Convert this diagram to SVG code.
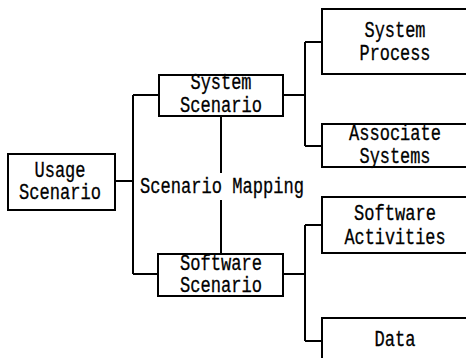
<svg xmlns="http://www.w3.org/2000/svg" width="466" height="358" viewBox="0 0 466 358">
<style>
.box{fill:#fff;stroke:#000;stroke-width:2}
.ln{fill:none;stroke:#000;stroke-width:2}
text{font-family:"Liberation Mono","DejaVu Sans Mono",monospace;font-size:22px;text-anchor:middle;fill:#000;stroke:#000;stroke-width:0.3}
</style>
<rect width="466" height="358" fill="#fff"/>
<g id="connectors">
<path class="ln" d="M115 181H133M133 95V274M133 95H159M133 274H158"/>
<path class="ln" d="M283 95H305M305 42V146M305 42H322M305 146H322"/>
<path class="ln" d="M283 274H305M305 225V341M305 225H322M305 341H322"/>
<path class="ln" d="M221 116V173M221 200V254"/>
<text x="222" y="193" textLength="164" lengthAdjust="spacingAndGlyphs">Scenario Mapping</text>
</g>
<g id="usage">
<rect class="box" x="8" y="154" width="107" height="56"/>
<text x="60" y="177" textLength="51" lengthAdjust="spacingAndGlyphs">Usage</text>
<text x="60" y="199" textLength="82" lengthAdjust="spacingAndGlyphs">Scenario</text>
</g>
<g id="system-scenario">
<rect class="box" x="159" y="75" width="124" height="41"/>
<text x="221" y="89" textLength="61" lengthAdjust="spacingAndGlyphs">System</text>
<text x="221" y="112" textLength="82" lengthAdjust="spacingAndGlyphs">Scenario</text>
</g>
<g id="software-scenario">
<rect class="box" x="158" y="254" width="125" height="42"/>
<text x="221" y="270" textLength="82" lengthAdjust="spacingAndGlyphs">Software</text>
<text x="221" y="292" textLength="82" lengthAdjust="spacingAndGlyphs">Scenario</text>
</g>
<g id="system-process">
<rect class="box" x="322" y="9" width="160" height="65"/>
<text x="395" y="37" textLength="61" lengthAdjust="spacingAndGlyphs">System</text>
<text x="395" y="60" textLength="71" lengthAdjust="spacingAndGlyphs">Process</text>
</g>
<g id="associate-systems">
<rect class="box" x="322" y="124" width="160" height="43"/>
<text x="395" y="140" textLength="92" lengthAdjust="spacingAndGlyphs">Associate</text>
<text x="395" y="163" textLength="71" lengthAdjust="spacingAndGlyphs">Systems</text>
</g>
<g id="software-activities">
<rect class="box" x="322" y="197" width="160" height="56"/>
<text x="395" y="220" textLength="82" lengthAdjust="spacingAndGlyphs">Software</text>
<text x="395" y="244" textLength="101" lengthAdjust="spacingAndGlyphs">Activities</text>
</g>
<g id="data">
<rect class="box" x="322" y="318" width="160" height="60"/>
<text x="395" y="346" textLength="41" lengthAdjust="spacingAndGlyphs">Data</text>
</g>
</svg>
